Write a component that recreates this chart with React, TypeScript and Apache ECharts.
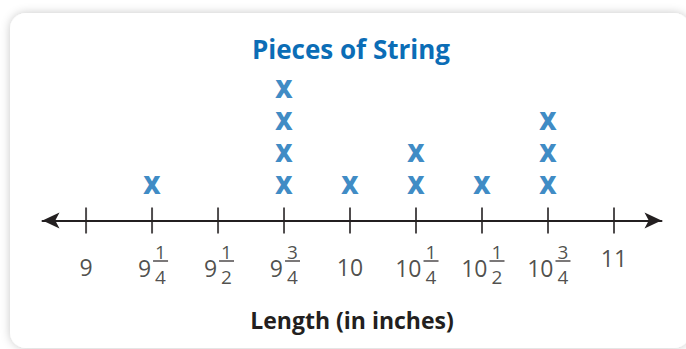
import React, { useEffect, useRef } from 'react';
import * as echarts from 'echarts';

// ---- data ----
const TICKS = [9, 9.25, 9.5, 9.75, 10, 10.25, 10.5, 10.75, 11];
const TICK_WHOLE = ['9', '9', '9', '9', '10', '10', '10', '10', '11'];
const TICK_NUM = ['', '1', '1', '3', '', '1', '1', '3', ''];
const TICK_DEN = ['', '4', '2', '4', '', '4', '2', '4', ''];
const LENGTHS = [9.25, 9.75, 10, 10.25, 10.5, 10.75];
const COUNTS = [1, 4, 1, 2, 1, 3];
const TITLE = 'Pieces of String';
const AXIS_TITLE = 'Length (in inches)';

const BLUE = '#0b6db6';
const INK = '#231f20';
const FONT = '"Open Sans", "Noto Sans", sans-serif';
const Y_MIN = -0.125;

export default function App() {
  const ref = useRef<HTMLDivElement>(null);

  useEffect(() => {
    document.body.style.margin = '0';
    const chart = echarts.init(ref.current!, undefined, { renderer: 'svg' });

    const xMarks: number[][] = [];
    LENGTHS.forEach((v, i) => {
      for (let k = 1; k <= COUNTS[i]; k++) xMarks.push([v, k]);
    });

    const wholeData = TICKS.map((v, i) => {
      const mixed = TICK_NUM[i] !== '';
      const shift = (TICK_WHOLE[i].length - 1) * 6.5;
      return {
        value: [v, Y_MIN],
        label: {
          formatter: TICK_WHOLE[i],
          align: mixed ? 'right' : 'center',
          offset: [mixed ? -1 + shift : 0, mixed ? 47.5 : v === 11 ? 37 : 46],
        },
      };
    });

    const fracIdx = TICKS.map((_, i) => i).filter((i) => TICK_NUM[i] !== '');
    const barData = fracIdx.map((i) => {
      const shift = (TICK_WHOLE[i].length - 1) * 6.5;
      return { value: [TICKS[i], Y_MIN], symbolOffset: [8.5 + shift, 40.5] };
    });
    const fracData = fracIdx.map((i) => {
      const shift = (TICK_WHOLE[i].length - 1) * 6.5;
      return {
        value: [TICKS[i], Y_MIN],
        label: { formatter: TICK_NUM[i] + '\n' + TICK_DEN[i], offset: [8.5 + shift, 43.5] },
      };
    });

    chart.setOption({
      animation: false,
      backgroundColor: '#ffffff',
      grid: { left: 42.5, right: 24.5, top: 56.5, bottom: 128.5 },
      xAxis: {
        type: 'value',
        min: 8.835,
        max: 11.18,
        axisLine: {
          show: true,
          onZero: false,
          symbol: ['arrow', 'arrow'],
          symbolSize: [12, 17],
          lineStyle: { color: INK, width: 2 },
        },
        axisTick: { show: false },
        axisLabel: { show: false },
        splitLine: { show: false },
      },
      yAxis: { type: 'value', min: Y_MIN, max: 5, show: false, splitLine: { show: false } },
      graphic: [
        {
          type: 'rect',
          z: -100,
          shape: { x: 10, y: 13, width: 680, height: 335, r: 16 },
          style: { fill: '#ffffff', shadowBlur: 10, shadowColor: 'rgba(0,0,0,0.22)' },
        },
        {
          type: 'text',
          z: 100,
          x: 351,
          y: 49,
          style: {
            text: TITLE,
            fill: BLUE,
            font: 'bold 26px ' + FONT,
            textAlign: 'center',
            textVerticalAlign: 'middle',
          },
        },
        {
          type: 'text',
          z: 100,
          x: 352,
          y: 320,
          style: {
            text: AXIS_TITLE,
            fill: INK,
            font: 'bold 23px ' + FONT,
            textAlign: 'center',
            textVerticalAlign: 'middle',
          },
        },
      ],
      series: [
        {
          name: 'ticks',
          type: 'scatter',
          clip: false,
          silent: true,
          symbol: 'rect',
          symbolSize: [2, 26],
          itemStyle: { color: INK },
          data: TICKS.map((v) => [v, Y_MIN]),
        },
        {
          name: 'fractionBars',
          type: 'scatter',
          clip: false,
          silent: true,
          symbol: 'rect',
          symbolSize: [15, 1.5],
          itemStyle: { color: INK },
          data: barData,
        },
        {
          name: 'wholeLabels',
          type: 'scatter',
          clip: false,
          silent: true,
          symbolSize: 1,
          itemStyle: { color: 'rgba(0,0,0,0)' },
          label: {
            show: true,
            position: 'inside',
            color: INK,
            fontSize: 23,
            fontWeight: 500,
            fontFamily: FONT,
          },
          data: wholeData,
        },
        {
          name: 'fractionLabels',
          type: 'scatter',
          clip: false,
          silent: true,
          symbolSize: 1,
          itemStyle: { color: 'rgba(0,0,0,0)' },
          label: {
            show: true,
            position: 'inside',
            color: INK,
            fontSize: 19,
            fontWeight: 500,
            lineHeight: 25,
            align: 'center',
            fontFamily: FONT,
          },
          data: fracData,
        },
        {
          name: 'X',
          type: 'scatter',
          clip: false,
          silent: true,
          symbolSize: 1,
          itemStyle: { color: 'rgba(0,0,0,0)' },
          label: {
            show: true,
            position: 'inside',
            formatter: 'X',
            color: BLUE,
            fontSize: 24,
            fontWeight: 800,
            fontFamily: FONT,
          },
          data: xMarks,
        },
      ],
    });

    return () => chart.dispose();
  }, []);

  return (
    <div
      ref={ref}
      style={{ position: 'absolute', left: 0, top: 0, width: 686, height: 349 }}
    />
  );
}
